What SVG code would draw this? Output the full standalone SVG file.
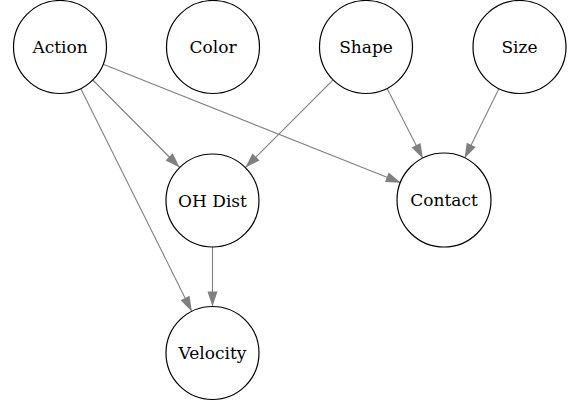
<svg xmlns="http://www.w3.org/2000/svg" width="571" height="404" viewBox="0 0 571 404">
<style>
.node circle{fill:#fff;stroke:#000;stroke-width:1.2}
.node text{font-family:"DejaVu Serif",serif;font-size:17px;text-anchor:middle;fill:#000}
.edges line{stroke:#808080;stroke-width:1.1;marker-end:url(#ah)}
</style>
<defs>
<marker id="ah" markerUnits="userSpaceOnUse" markerWidth="15" markerHeight="11" viewBox="0 0 15 11" refX="15" refY="5.5" orient="auto" overflow="visible">
<path d="M0,0.5 L15,5.5 L0,10.5 Z" fill="#808080"/>
</marker>
</defs>
<rect width="571" height="404" fill="#fff"/>
<g class="edges">
<line x1="92.8" y1="80" x2="179.7" y2="167.5"/>
<line x1="80.7" y1="88.6" x2="191.8" y2="311.4"/>
<line x1="103.2" y1="64.2" x2="400.8" y2="182.8"/>
<line x1="333.1" y1="79.9" x2="245.4" y2="167.6"/>
<line x1="387.1" y1="88.4" x2="422.9" y2="158.6"/>
<line x1="498.9" y1="88.7" x2="464.6" y2="158.3"/>
<line x1="212.5" y1="247" x2="212.5" y2="306.5"/>
</g>
<g id="action" class="node"><circle cx="60" cy="47" r="46.5"/><text x="60" y="53">Action</text></g>
<g id="color" class="node"><circle cx="213" cy="47" r="46.5"/><text x="213" y="53">Color</text></g>
<g id="shape" class="node"><circle cx="366" cy="47" r="46.5"/><text x="366" y="53">Shape</text></g>
<g id="size" class="node"><circle cx="519.5" cy="47" r="46.5"/><text x="519.5" y="53">Size</text></g>
<g id="ohdist" class="node"><circle cx="212.5" cy="200.5" r="46.5"/><text x="212.5" y="206.5">OH Dist</text></g>
<g id="contact" class="node"><circle cx="444" cy="200" r="47"/><text x="444" y="206">Contact</text></g>
<g id="velocity" class="node"><circle cx="212.5" cy="353" r="46.5"/><text x="212.5" y="359">Velocity</text></g>
</svg>
